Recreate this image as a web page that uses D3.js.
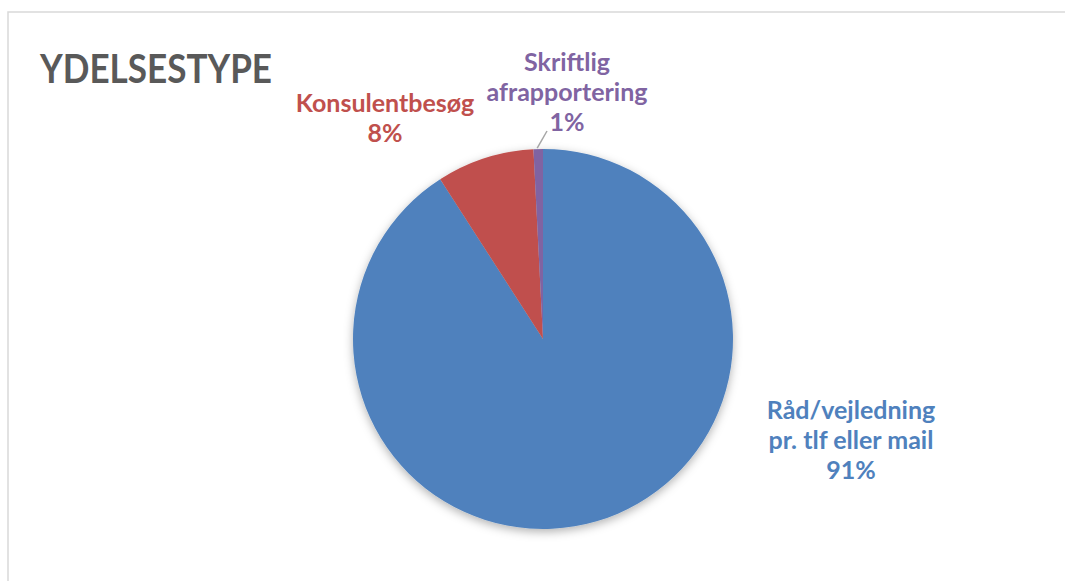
<!DOCTYPE html>
<html>
<head>
<meta charset="utf-8">
<script src="https://cdn.jsdelivr.net/npm/d3@7"></script>
<style>
  body { margin: 0; background: #fff; }
  svg { display: block; }
  text { font-family: Lato, "Open Sans", sans-serif; font-weight: bold; }
</style>
</head>
<body>
<svg width="1065" height="581"></svg>
<script>
// data (Excel pie, starts at 12 o'clock, clockwise)
var categories = ["Råd/vejledning pr. tlf eller mail", "Konsulentbesøg", "Skriftlig afrapportering"];
var shares = [90.9, 8.3, 0.8];
var pctLabels = ["91%", "8%", "1%"];
var labelLines = [["Råd/vejledning", "pr. tlf eller mail"], ["Konsulentbesøg"], ["Skriftlig", "afrapportering"]];
var colours = ["#4F81BD", "#C0504D", "#8064A2"];

var svg = d3.select("svg"),
    cx = 543,
    cy = 339,
    radius = 190;

var defs = svg.append("defs");
var shadow = defs.append("filter")
    .attr("id", "shadow")
    .attr("x", "-20%").attr("y", "-20%")
    .attr("width", "140%").attr("height", "140%");
shadow.append("feDropShadow")
    .attr("dx", 0)
    .attr("dy", 3)
    .attr("stdDeviation", 5)
    .attr("flood-color", "#000")
    .attr("flood-opacity", 0.3);

// chart frame (runs off the right and bottom)
svg.append("rect")
    .attr("x", 8)
    .attr("y", 12)
    .attr("width", 1200)
    .attr("height", 700)
    .attr("fill", "none")
    .attr("stroke", "#d9d9d9")
    .attr("stroke-width", 1.5);

svg.append("text")
    .attr("x", 40)
    .attr("y", 83)
    .attr("font-size", 41)
    .attr("fill", "#595959")
    .attr("textLength", 232)
    .attr("lengthAdjust", "spacingAndGlyphs")
    .text("YDELSESTYPE");

var pie = d3.pie().sort(null).value(function(d) { return d; });
var arc = d3.arc().innerRadius(0).outerRadius(radius);
var arcs = pie(shares);

var g = svg.append("g").attr("transform", "translate(" + cx + "," + cy + ")");

g.append("g")
    .attr("filter", "url(#shadow)")
    .selectAll("path")
    .data(arcs)
    .enter().append("path")
    .attr("d", arc)
    .attr("fill", function(d, i) { return colours[i]; });

// label centres (relative to pie centre), top line middle
var labelPos = [[308, 71], [-158, -236], [24, -277]];
var lineH = 30;

var labels = g.selectAll(".lbl")
    .data(arcs)
    .enter().append("text")
    .attr("class", "lbl")
    .attr("text-anchor", "middle")
    .attr("font-size", 25)
    .attr("fill", function(d, i) { return colours[i]; });

labels.each(function(d, i) {
    var t = d3.select(this);
    var lines = labelLines[i].concat([pctLabels[i]]);
    lines.forEach(function(s, j) {
        t.append("tspan")
            .attr("x", labelPos[i][0])
            .attr("y", labelPos[i][1] + j * lineH)
            .attr("dy", "0.35em")
            .text(s);
    });
});

// leader line for the small slice
var small = arcs[2];
var mid = (small.startAngle + small.endAngle) / 2;
g.append("line")
    .attr("x1", Math.sin(mid) * (radius + 1) - 1)
    .attr("y1", -Math.cos(mid) * (radius + 1))
    .attr("x2", 4)
    .attr("y2", -208)
    .attr("stroke", "#a6a6a6")
    .attr("stroke-width", 1.5);
</script>
</body>
</html>
